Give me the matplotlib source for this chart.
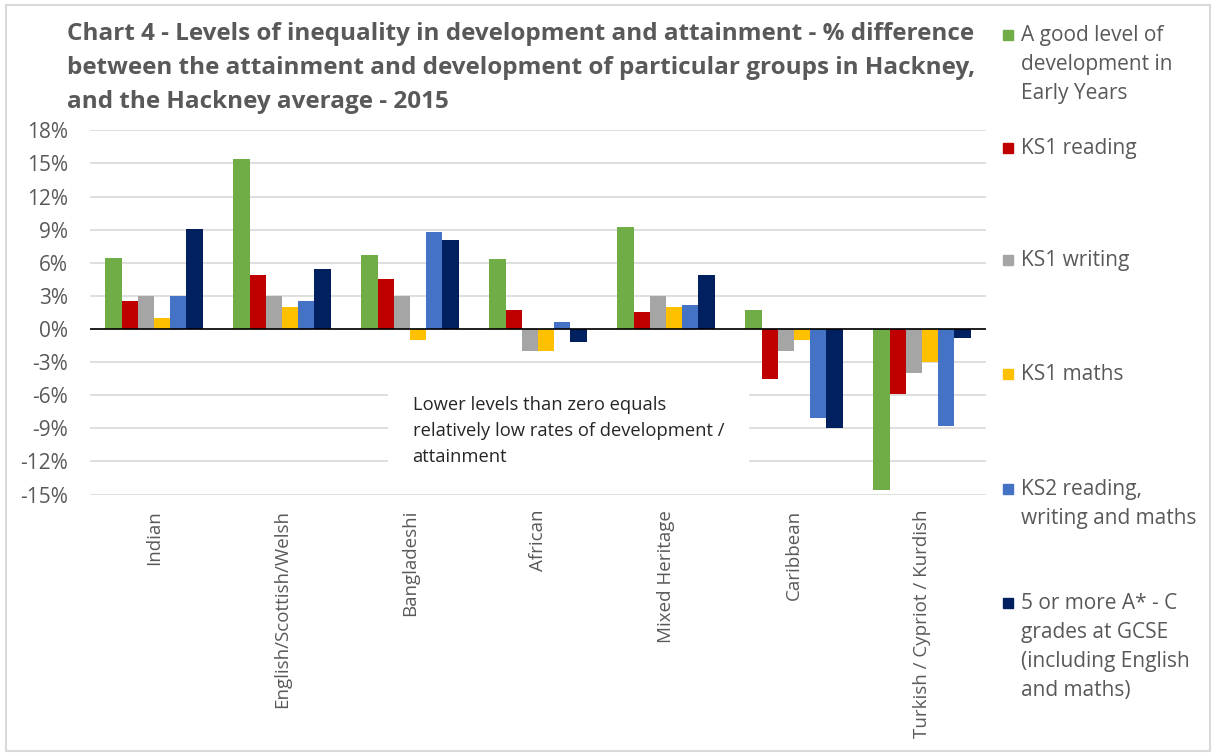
import numpy as np
import matplotlib.pyplot as plt
from matplotlib.patches import Rectangle

groups = ["Indian", "English/Scottish/Welsh", "Bangladeshi", "African",
          "Mixed Heritage", "Caribbean", "Turkish / Cypriot / Kurdish"]

series_names = [
    "A good level of\ndevelopment in\nEarly Years",
    "KS1 reading",
    "KS1 writing",
    "KS1 maths",
    "KS2 reading,\nwriting and maths",
    "5 or more A* - C\ngrades at GCSE\n(including English\nand maths)",
]
colors = ["#70AD47", "#C00000", "#A5A5A5", "#FFC000", "#4472C4", "#002060"]

# % difference from the Hackney average, one list per measure
early_years = [6.4, 15.4, 6.7, 6.3, 9.2, 1.7, -14.6]
ks1_reading = [2.5, 4.9, 4.5, 1.7, 1.5, -4.5, -5.9]
ks1_writing = [3.0, 3.0, 3.0, -2.0, 3.0, -2.0, -4.0]
ks1_maths = [1.0, 2.0, -1.0, -2.0, 2.0, -1.0, -3.0]
ks2_rwm = [3.0, 2.5, 8.8, 0.6, 2.2, -8.1, -8.8]
gcse = [9.1, 5.4, 8.1, -1.2, 4.9, -9.0, -0.8]

yticks = list(range(-15, 19, 3))

values = [early_years, ks1_reading, ks1_writing, ks1_maths, ks2_rwm, gcse]

W, H = 1217, 754
fig = plt.figure(figsize=(W / 100, H / 100), dpi=100)
txt = "#595959"
plt.rcParams['font.family'] = ['Open Sans', 'DejaVu Sans']

ax = fig.add_axes([90 / W, 1 - 494.6 / H, (986 - 90) / W, (494.6 - 130.3) / H])

x = np.arange(len(groups))
n = len(values)
bw = 0.76 / n
for i, (vals, c) in enumerate(zip(values, colors)):
    ax.bar(x - 0.38 + bw * (i + 0.5), vals, width=bw, color=c, zorder=3)

ax.set_xlim(-0.5, len(groups) - 0.5)
ax.set_ylim(-15, 18)
ax.set_yticks(yticks)
ax.set_yticklabels([f"{t}%" for t in yticks], fontsize=15, color=txt)
ax.set_xticks(x)
ax.set_xticklabels(groups, rotation=90, fontsize=13.5, color=txt, va="top")
ax.tick_params(length=0)
ax.tick_params(axis="y", pad=16)
ax.tick_params(axis="x", pad=11)
for s in ax.spines.values():
    s.set_visible(False)
ax.grid(axis="y", color="#D9D9D9", linewidth=1.2, zorder=0)
ax.axhline(0, color="black", linewidth=1.2, zorder=4)

# note about negative values, on a white box over the gridlines (under the bars)
ax.text(0.36, 0.272,
        "Lower levels than zero equals\nrelatively low rates of development /\nattainment",
        transform=ax.transAxes, fontsize=13.2, color="#262626", va="top", ha="left",
        linespacing=1.6, zorder=2,
        bbox=dict(facecolor="white", edgecolor="none", pad=18))

fig.text(67 / W, 1 - 22 / H,
         "Chart 4 - Levels of inequality in development and attainment - % difference\n"
         "between the attainment and development of particular groups in Hackney,\n"
         "and the Hackney average - 2015",
         fontsize=17.5, fontweight="bold", color=txt, va="top", ha="left",
         linespacing=1.55)

# legend down the right-hand side
leg_y = [35, 148, 260, 374, 489, 603]
for name, c, yy in zip(series_names, colors, leg_y):
    fig.add_artist(Rectangle((1003 / W, 1 - (yy + 5) / H), 10 / W, 10 / H,
                             transform=fig.transFigure, color=c))
    fig.text(1021 / W, 1 - (yy - 10) / H, name, fontsize=15, color=txt,
             va="top", ha="left", linespacing=1.5)

fig.add_artist(Rectangle((6 / W, 3 / H), 1204 / W, 746 / H, transform=fig.transFigure,
                         fill=False, edgecolor="#D9D9D9", linewidth=1.5))

fig.savefig("out.png", dpi=100)
